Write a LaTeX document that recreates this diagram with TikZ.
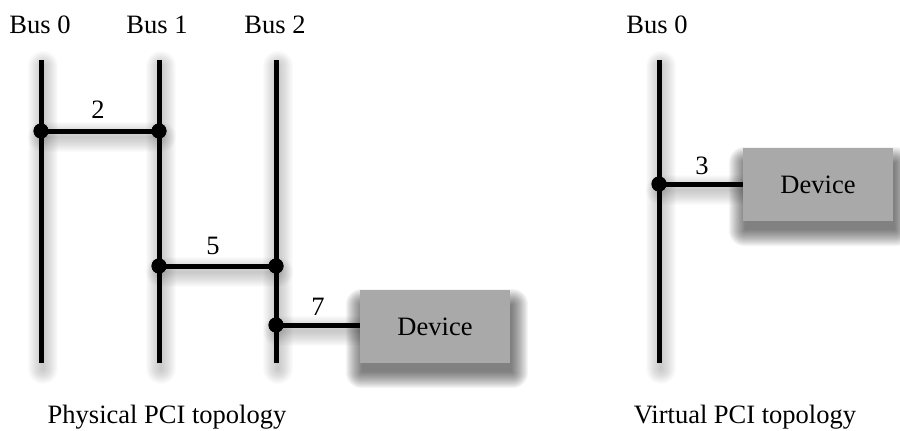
\documentclass[tikz,border=0pt]{standalone}
\usepackage{fontspec}
\setmainfont{Liberation Serif}
\usetikzlibrary{calc}
\pgfdeclarelayer{shade}
\pgfsetlayers{shade,main}
\definecolor{devgray}{HTML}{A9A9A9}
\newcommand\lblfont{\fontsize{26.5}{30}\selectfont}
% soft drop shadow of a line: stacked translucent strokes, shifted down-right
\newcommand\softshadow[1]{%
  \begin{scope}[transform canvas={shift={(2pt,-6pt)}}]
    \foreach \w in {2,4,...,30}{%
      \draw[line width=\w pt, black, opacity=0.016, line cap=round] #1;}
  \end{scope}}
% soft drop shadow of a box node: stacked growing rectangles
\newcommand\boxshadow[1]{%
  \begin{scope}[transform canvas={shift={(2pt,-9pt)}}]
    \foreach \k in {0,1,...,16}{%
      \fill[black, opacity=0.038, rounded corners=\k pt]
        ($(#1.north west)+(-\k,-\k+6)$) rectangle ($(#1.south east)+(\k,\k)$);}
  \end{scope}}
\tikzset{
  bus/.style={line width=5pt},
  link/.style={line width=5pt},
  junction/.style={circle, fill=black, inner sep=0pt, minimum size=15pt},
  device/.style={fill=devgray, minimum width=150pt, minimum height=73pt,
    inner sep=0pt, font=\lblfont},
  lbl/.style={font=\lblfont, inner sep=0pt, anchor=base},
}
\begin{document}
\begin{tikzpicture}[x=1pt,y=-1pt]
\useasboundingbox (0,0) rectangle (900,431);

% bus end points
\coordinate (b0t) at (41,60);  \coordinate (b0b) at (41,363);
\coordinate (b1t) at (159,60); \coordinate (b1b) at (159,363);
\coordinate (b2t) at (276,60); \coordinate (b2b) at (276,363);
\coordinate (v0t) at (659,60); \coordinate (v0b) at (659,363);

% junctions on the buses
\node[junction] (j2a) at (41,131) {};
\node[junction] (j2b) at (159,131) {};
\node[junction] (j5a) at (159,266) {};
\node[junction] (j5b) at (276,266) {};
\node[junction] (j7)  at (276,325) {};
\node[junction] (j3)  at (659,184) {};

% devices
\node[device] (dev1) at (435,326.5) {Device};
\node[device] (dev2) at (818,184.5) {Device};

% shadows behind everything
\begin{pgfonlayer}{shade}
  \softshadow{(b0t) -- (b0b)}
  \softshadow{(b1t) -- (b1b)}
  \softshadow{(b2t) -- (b2b)}
  \softshadow{(v0t) -- (v0b)}
  \softshadow{(j2a.center) -- (j2b.center)}
  \softshadow{(j5a.center) -- (j5b.center)}
  \softshadow{(j7.center) -- (j7.center -| dev1.west)}
  \softshadow{(j3.center) -- (j3.center -| dev2.west)}
  \boxshadow{dev1}
  \boxshadow{dev2}
\end{pgfonlayer}

% buses
\draw[bus] (b0t) -- (b0b);
\draw[bus] (b1t) -- (b1b);
\draw[bus] (b2t) -- (b2b);
\draw[bus] (v0t) -- (v0b);

% links
\draw[link] (j2a.center) -- (j2b.center);
\draw[link] (j5a.center) -- (j5b.center);
\draw[link] (j7.center) -- (j7.center -| dev1.west);
\draw[link] (j3.center) -- (j3.center -| dev2.west);

% junction dots on top of the lines
\foreach \j in {j2a,j2b,j5a,j5b,j7,j3}{\fill (\j) circle (7.5pt);}

% link numbers
\node[lbl] (n2) at (98,118) {2};
\node[lbl] (n5) at (213,254) {5};
\node[lbl] (n7) at (318,315) {7};
\node[lbl] (n3) at (702,174) {3};

% bus names
\node[lbl] (l0) at (40,33) {Bus 0};
\node[lbl] (l1) at (157,33) {Bus 1};
\node[lbl] (l2) at (275,33) {Bus 2};
\node[lbl] (l3) at (657,33) {Bus 0};

% captions
\node[lbl] (cap1) at (167,423) {Physical PCI topology};
\node[lbl] (cap2) at (745,423) {Virtual PCI topology};
\end{tikzpicture}
\end{document}
